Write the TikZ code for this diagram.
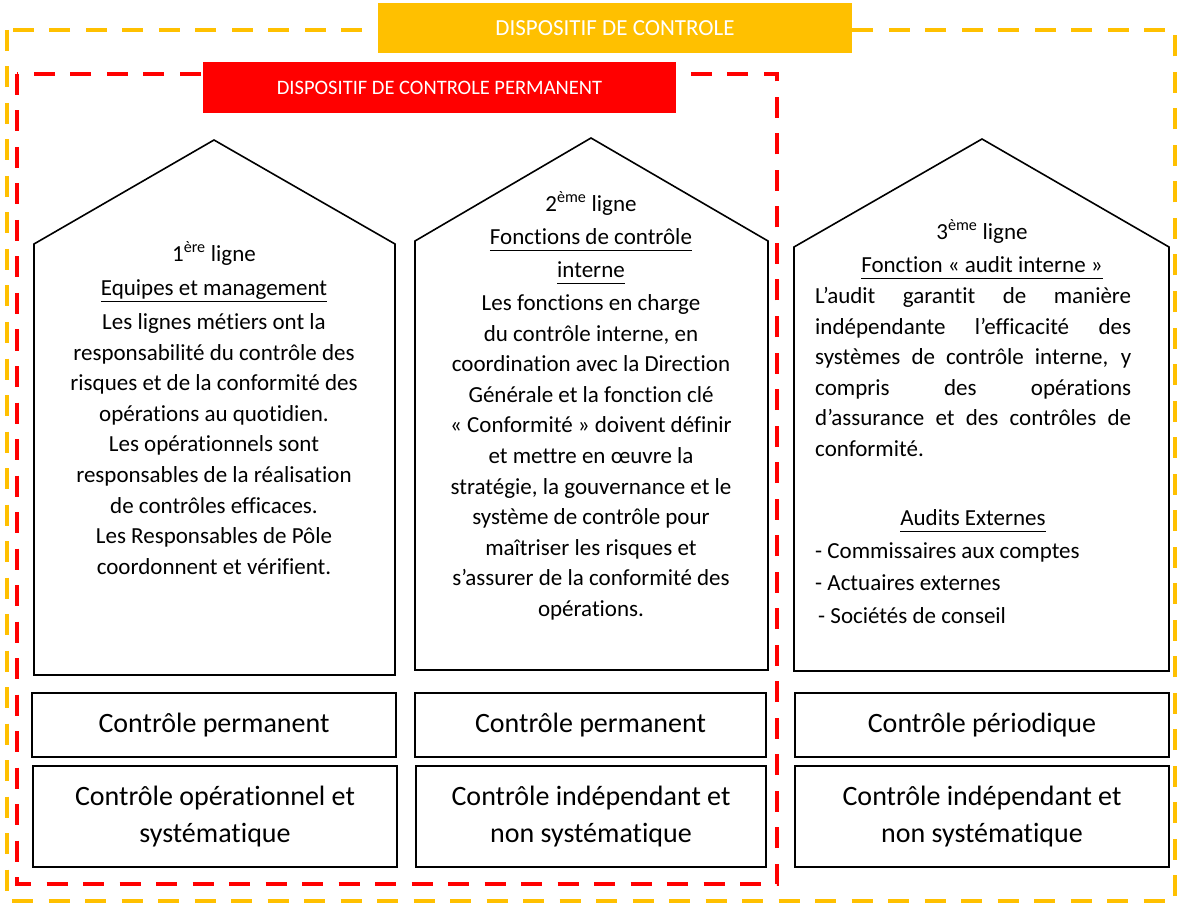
\documentclass[tikz,border=0pt]{standalone}
\usepackage{fontspec}
\setmainfont{Carlito}[Ligatures=CommonOff]
\usepackage{tikz}

\definecolor{jaune}{HTML}{FFC000}
\definecolor{rouge}{HTML}{FF0000}
\newcommand{\souligne}[1]{\setbox0\hbox{#1}\rlap{\rule[-7pt]{\wd0}{1.5pt}}\box0}

\tikzset{
  cadre/.style={line width=4.5pt, dash pattern=on 21pt off 15.5pt},
  etiquette/.style={text=white, inner sep=0pt},
  maison/.style={line width=1.6pt, line join=miter},
  texte/.style={align=center, inner sep=0pt, font=\fontsize{23}{30.6}\selectfont},
  boite/.style={draw, line width=1.6pt, inner sep=0pt, align=center,
    font=\fontsize{28}{37}\selectfont}
}

\begin{document}
\begin{tikzpicture}[x=1pt, y=-1pt]
\useasboundingbox (0,0) rectangle (1179,904);
\draw[cadre, jaune] (7,30) rectangle (1175,901);
\draw[cadre, rouge] (17,74) rectangle (777,884);
\node[etiquette, fill=jaune, minimum width=474pt, minimum height=50pt,
  font=\fontsize{23}{28}\selectfont] (dispositif) at (615,28) {DISPOSITIF DE CONTROLE};
\node[etiquette, fill=rouge, minimum width=473pt, minimum height=51pt,
  font=\fontsize{20.5}{25}\selectfont] (permanent) at (439.5,87.5) {DISPOSITIF DE CONTROLE PERMANENT};
\draw[maison] (34,675) -- (34,244) -- (214,140) -- (395,244) -- (395,675) -- cycle;
\draw[maison] (415,670) -- (415,241) -- (591,138) -- (768,241) -- (768,670) -- cycle;
\draw[maison] (794,671) -- (794,247) -- (982,139) -- (1169,247) -- (1169,671) -- cycle;
\node[texte, anchor=north] (ligne1) at (214,241) {1\textsuperscript{ère} ligne\\[3.5pt]
  \souligne{Equipes et management}\\[3.5pt]
  Les lignes métiers ont la\\
  responsabilité du contrôle des\\
  risques et de la conformité des\\
  opérations au quotidien.\\
  Les opérationnels sont\\
  responsables de la réalisation\\
  de contrôles efficaces.\\
  Les Responsables de Pôle\\
  coordonnent et vérifient.};
\node[texte, anchor=north] (ligne2) at (591,191) {2\textsuperscript{ème} ligne\\[2.5pt]
  \souligne{Fonctions de contrôle}\\[2.5pt]
  \souligne{interne}\\[2.5pt]
  Les fonctions en charge\\
  du contrôle interne, en\\
  coordination avec la Direction\\
  Générale et la fonction clé\\
  «~Conformité~» doivent définir\\
  et mettre en œuvre la\\
  stratégie, la gouvernance et le\\
  système de contrôle pour\\
  maîtriser les risques et\\
  s’assurer de la conformité des\\
  opérations.};
\node[texte, anchor=north] (ligne3) at (982,219) {3\textsuperscript{ème} ligne\\[2.5pt]
  \souligne{Fonction «~audit interne~»}};
\node[texte, anchor=north west, text width=316pt, align=justify] (audit) at (815,287)
  {L’audit garantit de manière\linebreak
  indépendante l’efficacité des\linebreak
  systèmes de contrôle interne, y\linebreak
  compris des opérations\linebreak
  d’assurance et des contrôles de\linebreak
  conformité.};
\node[texte, anchor=base] (externes) at (973,525) {\souligne{Audits Externes}};
\node[texte, anchor=north west, align=left, font=\fontsize{23}{32.5}\selectfont] (liste) at (815,542)
  {- Commissaires aux comptes\\
  - Actuaires externes\\
  \hspace*{3pt}- Sociétés de conseil};
\node[boite, minimum width=364pt, minimum height=64pt] (perm1) at (214,725) {Contrôle permanent};
\node[boite, minimum width=351pt, minimum height=64pt] (perm2) at (590.5,725) {Contrôle permanent};
\node[boite, minimum width=374pt, minimum height=64pt] (perio3) at (982,725) {Contrôle périodique};
\node[boite, minimum width=364pt, minimum height=101pt] (nature1) at (215,816.5)
  {Contrôle opérationnel et\\ systématique};
\node[boite, minimum width=350pt, minimum height=101pt] (nature2) at (591,816.5)
  {Contrôle indépendant et\\ non systématique};
\node[boite, minimum width=374pt, minimum height=101pt] (nature3) at (982,816.5)
  {Contrôle indépendant et\\ non systématique};
\end{tikzpicture}
\end{document}
